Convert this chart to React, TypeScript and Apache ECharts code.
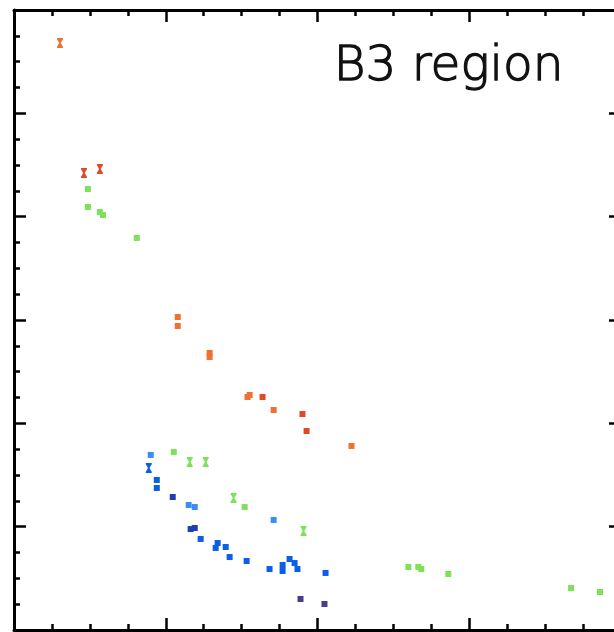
import React, { useEffect, useRef } from "react";
import * as echarts from "echarts";

// x from 0..4, y from 0..6 (axis units; no labels are shown in the reference)
const orangePts: number[][] = [
  [1.079, 3.029], [1.079, 2.942], [1.289, 2.681], [1.289, 2.642],
  [1.539, 2.255], [1.553, 2.274], [1.711, 2.129], [2.224, 1.781],
];
const orangeErrPts: number[][] = [[0.303, 5.681]];

const redPts: number[][] = [[1.638, 2.255], [1.901, 2.09], [1.928, 1.926]];
const redErrPts: number[][] = [[0.461, 4.423], [0.566, 4.461]];

const greenPts: number[][] = [
  [0.487, 4.268], [0.487, 4.094], [0.566, 4.045], [0.586, 4.016], [0.809, 3.794],
  [1.053, 1.723], [1.52, 1.19], [2.599, 0.61], [2.664, 0.61], [2.684, 0.59],
  [2.862, 0.542], [3.671, 0.406], [3.862, 0.368],
];
const greenErrPts: number[][] = [[1.158, 1.626], [1.263, 1.626], [1.447, 1.277], [1.908, 0.958]];

const lightBluePts: number[][] = [[0.901, 1.694], [1.151, 1.21], [1.191, 1.19], [1.711, 1.065]];

const bluePts: number[][] = [
  [0.941, 1.452], [0.941, 1.374], [1.23, 0.881], [1.329, 0.794], [1.342, 0.842],
  [1.395, 0.803], [1.421, 0.706], [1.533, 0.668], [1.684, 0.59], [1.77, 0.629],
  [1.77, 0.571], [1.816, 0.687], [1.849, 0.648], [1.868, 0.59], [2.053, 0.552],
];
const blueErrPts: number[][] = [[0.888, 1.568]];

const darkBluePts: number[][] = [[1.046, 1.287], [1.164, 0.977], [1.191, 0.987]];
const purplePts: number[][] = [[1.888, 0.3], [2.046, 0.252]];

const X_MIN = 0, X_MAX = 4, Y_MIN = 0, Y_MAX = 6;
const LABEL = "B3 region";

const HOURGLASS = "path://M0,0H6V1.2L4,4.5V5.5L6,8.8V10H0V8.8L2,5.5V4.5L0,1.2Z";

export default function App() {
  const ref = useRef<HTMLDivElement>(null);
  useEffect(() => {
    if (!ref.current) return;
    const chart = echarts.init(ref.current, undefined, { renderer: "svg" });
    const axisCommon = {
      axisLine: { show: true, onZero: false, lineStyle: { color: "#000", width: 3 } },
      axisTick: { show: true, inside: true, length: 12, lineStyle: { color: "#000", width: 2.5 } },
      minorTick: { show: true, splitNumber: 4, length: 6, lineStyle: { color: "#000", width: 2.5 } },
      axisLabel: { show: false },
      splitLine: { show: false },
      minorSplitLine: { show: false },
    };
    const sq = (name: string, data: number[][], color: string) => ({
      type: "scatter", name, data, symbol: "rect", symbolSize: 6,
      itemStyle: { color, opacity: 1 }, xAxisIndex: 0, yAxisIndex: 0,
    });
    const hg = (name: string, data: number[][], color: string) => ({
      type: "scatter", name, data, symbol: HOURGLASS, symbolSize: [6, 10],
      itemStyle: { color, opacity: 1 }, xAxisIndex: 0, yAxisIndex: 0,
    });
    chart.setOption({
      animation: false,
      backgroundColor: "#fff",
      grid: { left: 14, top: 10, right: 9, bottom: 2, containLabel: false },
      xAxis: [
        { type: "value", min: X_MIN, max: X_MAX, interval: 1, position: "bottom", ...axisCommon },
        { type: "value", min: X_MIN, max: X_MAX, interval: 1, position: "top", ...axisCommon },
      ],
      yAxis: [
        { type: "value", min: Y_MIN, max: Y_MAX, interval: 1, position: "left", ...axisCommon },
        { type: "value", min: Y_MIN, max: Y_MAX, interval: 1, position: "right", ...axisCommon },
      ],
      graphic: [
        {
          type: "text", left: 333, top: 38,
          style: {
            text: LABEL, fontFamily: "DejaVu Sans", fontWeight: 200, fontSize: 48.5,
            fill: "#111", stroke: "#111", lineWidth: 1.3,
          },
        },
      ],
      series: [
        sq("green", greenPts, "#7fe05a"),
        hg("greenErr", greenErrPts, "#7fe05a"),
        sq("orange", orangePts, "#f07032"),
        hg("orangeErr", orangeErrPts, "#f07032"),
        sq("red", redPts, "#e04a24"),
        hg("redErr", redErrPts, "#e04a24"),
        sq("lightBlue", lightBluePts, "#3b8ef0"),
        sq("blue", bluePts, "#0b5fe4"),
        hg("blueErr", blueErrPts, "#0b5fe4"),
        sq("darkBlue", darkBluePts, "#1c3fb4"),
        sq("purple", purplePts, "#4a3b8e"),
      ],
    });
    return () => chart.dispose();
  }, []);
  return (
    <div style={{ position: "fixed", left: 0, top: 0, width: 614, height: 632, overflow: "hidden" }}>
      <div ref={ref} style={{ width: 630, height: 632 }} />
    </div>
  );
}
